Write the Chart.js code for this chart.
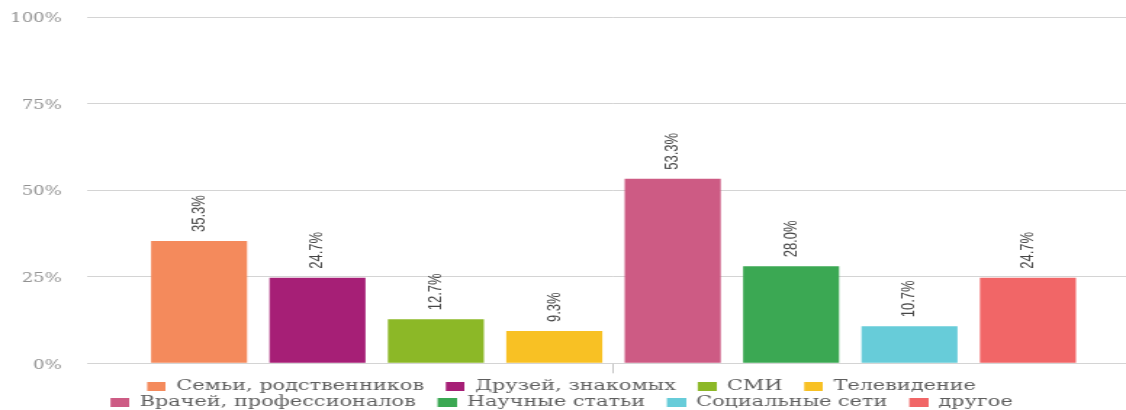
<!DOCTYPE html>
<html>
<head>
<meta charset="utf-8">
<script src="https://cdn.jsdelivr.net/npm/chart.js@4.4.1/dist/chart.umd.min.js"></script>
<style>
html,body{margin:0;padding:0;background:#fff;overflow:hidden;}
#wrap{width:1126px;height:410px;overflow:hidden;position:relative;background:#fff;}
#c{position:absolute;left:0;top:0;transform-origin:0 0;transform:scaleX(1.451);}
</style>
</head>
<body>
<div id="wrap"><canvas id="c" width="790" height="410"></canvas></div>
<script>
// ---- data ----
const categories = [''];
const seriesNames = [
  'Семьи, родственников',
  'Друзей, знакомых',
  'СМИ',
  'Телевидение',
  'Врачей, профессионалов',
  'Научные статьи',
  'Социальные сети',
  'другое'
];
const values = [35.3, 24.7, 12.7, 9.3, 53.3, 28.0, 10.7, 24.7];
const seriesColors = ['#f48a5c', '#a61f76', '#8cb827', '#f8c124', '#cd5b84', '#3ba853', '#67ccd9', '#f16667'];
const yTickValues = [0, 25, 50, 75, 100];
const yTickLabels = ['0%', '25%', '50%', '75%', '100%'];

// ---- legend swatches (transparent lead-in + coloured box) ----
function makeSwatch(color) {
  const cv = document.createElement('canvas');
  cv.width = 27; cv.height = 9;
  const g = cv.getContext('2d');
  g.fillStyle = color;
  g.fillRect(14, 0, 13, 9);
  return cv;
}

const valueLabels = {
  id: 'valueLabels',
  afterDatasetsDraw(chart) {
    const ctx = chart.ctx;
    chart.data.datasets.forEach((ds, i) => {
      const meta = chart.getDatasetMeta(i);
      meta.data.forEach((bar, j) => {
        const v = ds.data[j];
        ctx.save();
        ctx.translate(bar.x, bar.y - 9);
        ctx.rotate(-Math.PI / 2);
        ctx.font = '13px "Liberation Sans", Arial, sans-serif';
        ctx.fillStyle = '#454545';
        ctx.textAlign = 'left';
        ctx.textBaseline = 'middle';
        ctx.fillText(v.toFixed(1) + '%', 0, 0);
        ctx.restore();
      });
    });
  }
};

const legendPlace = {
  id: 'legendPlace',
  afterLayout(chart) {
    const lg = chart.legend;
    if (!lg) return;
    const dx = 380 - (lg.left + lg.right) / 2;
    const dy = 378.5 - lg.top;
    lg.left += dx; lg.right += dx;
    lg.top += dy; lg.bottom += dy;
  }
};

new Chart(document.getElementById('c'), {
  type: 'bar',
  data: {
    labels: categories,
    datasets: seriesNames.map((name, i) => ({
      label: name,
      data: [values[i]],
      backgroundColor: seriesColors[i],
      borderWidth: 0,
      categoryPercentage: 0.8997,
      barPercentage: 0.811
    }))
  },
  options: {
    responsive: false,
    animation: false,
    devicePixelRatio: 1,
    layout: { padding: { top: 17, right: 4.4, left: 0, bottom: 0 } },
    plugins: {
      tooltip: { enabled: false },
      legend: {
        position: 'bottom',
        fullSize: false,
        labels: {
          usePointStyle: true,
          pointStyleWidth: 27,
          boxHeight: 9,
          padding: 1,
          color: '#5e5e5e',
          font: { family: '"DejaVu Serif", serif', size: 14.35 },
          generateLabels(chart) {
            const items = Chart.defaults.plugins.legend.labels.generateLabels(chart);
            items.forEach(it => { it.pointStyle = makeSwatch(seriesColors[it.datasetIndex]); });
            return items;
          }
        }
      }
    },
    scales: {
      x: {
        grid: { display: true, drawOnChartArea: false, drawTicks: true, tickLength: 10, offset: false, color: '#c4c4c4' },
        border: { display: false },
        ticks: { display: false },
        afterFit(s) { s.height = 6; }
      },
      y: {
        min: 0,
        max: 100,
        afterBuildTicks(s) { s.ticks = yTickValues.map(v => ({ value: v })); },
        ticks: {
          callback: (v, idx) => yTickLabels[idx],
          padding: 0.3,
          labelOffset: 2,
          color: '#929292',
          font: { family: '"DejaVu Serif", serif', size: 12.5 }
        },
        grid: { color: '#d4d4d4', drawTicks: true, tickLength: 17, tickColor: 'rgba(0,0,0,0)' },
        border: { display: false },
        afterFit(s) { s.width = 60; }
      }
    }
  },
  plugins: [valueLabels, legendPlace]
});
</script>
</body>
</html>
